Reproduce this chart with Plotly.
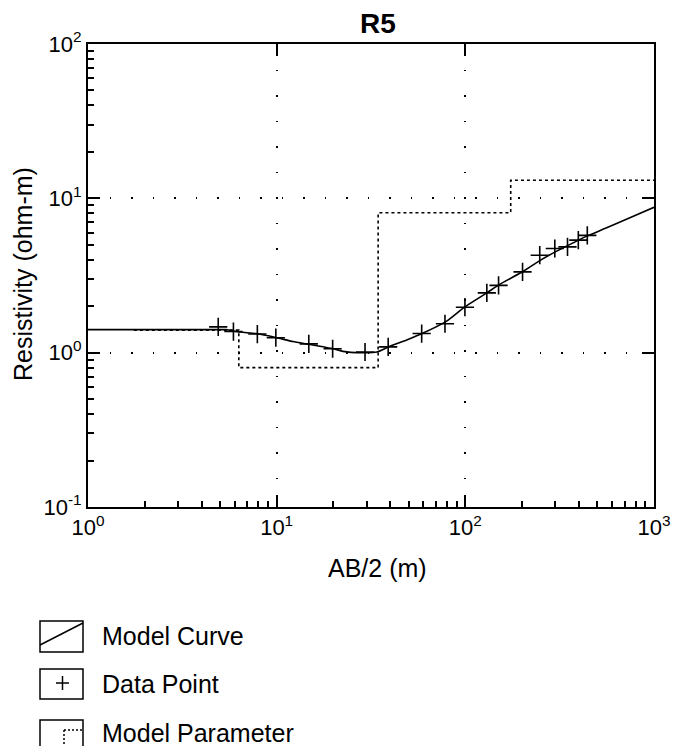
import plotly.graph_objects as go

# ---------------- data ----------------
curve_x = [1, 2, 3, 4, 5, 5.4, 6.4, 7.8, 10, 12.2, 15, 20, 22.5, 28, 34, 39.8, 48.9,
           59.8, 79.6, 99.5, 130, 152, 203, 248, 305, 373, 440, 561, 745, 1000]
curve_y = [1.41, 1.41, 1.41, 1.41, 1.41, 1.41, 1.36, 1.33, 1.25, 1.18, 1.13, 1.06, 1.02,
           1.00, 1.01, 1.10, 1.21, 1.34, 1.60, 1.98, 2.44, 2.77, 3.37, 3.95, 4.55, 5.15,
           5.69, 6.44, 7.49, 8.75]

data_x = [4.9, 5.9, 7.9, 9.9, 14.8, 19.8, 29.4, 39, 58.7, 78, 99.5, 130, 150, 201,
          248, 298, 348, 397, 443]
data_y = [1.47, 1.37, 1.32, 1.25, 1.14, 1.06, 1.01, 1.09, 1.33, 1.54, 1.97, 2.44,
          2.73, 3.34, 4.28, 4.73, 4.85, 5.36, 5.75]

layer_start = 1.75
layer_bottoms = [6.3, 34.5, 174]
layer_rho = [1.40, 0.80, 8.07, 13.1]
layer_end = 1000

x_tickvals = [1, 10, 100, 1000]
x_ticktext = ["10<sup>0</sup>", "10<sup>1</sup>", "10<sup>2</sup>", "10<sup>3</sup>"]
y_tickvals = [0.1, 1, 10, 100]
y_ticktext = ["10<sup>-1</sup>", "10<sup>0</sup>", "10<sup>1</sup>", "10<sup>2</sup>"]

title_text = "R5"
x_title = "AB/2 (m)"
y_title = "Resistivity (ohm-m)"
legend_labels = ["Model Curve", "Data Point", "Model Parameter"]

# build step line of model parameters
step_x = [layer_start]
step_y = [layer_rho[0]]
for i, b in enumerate(layer_bottoms):
    step_x += [b, b]
    step_y += [layer_rho[i], layer_rho[i + 1]]
step_x.append(layer_end)
step_y.append(layer_rho[-1])

# ---------------- layout geometry ----------------
W, H = 674, 746
L, R, T, B = 88, 654, 44, 507
FONT = "Liberation Sans, Arial, sans-serif"


def px2x(px):
    return (px - L) / (R - L)


def px2y(py):
    return (B - py) / (B - T)


minor_x = [m * 10 ** e for e in range(0, 3) for m in range(2, 10)]
minor_y = [m * 10.0 ** e for e in range(-1, 2) for m in range(2, 10)]

fig = go.Figure()
fig.add_trace(go.Scatter(x=step_x, y=step_y, mode="lines",
                         line=dict(color="black", width=1.6, dash="3px,3px"),
                         showlegend=False, hoverinfo="skip"))
fig.add_trace(go.Scatter(x=curve_x, y=curve_y, mode="lines",
                         line=dict(color="black", width=1.6, shape="spline", smoothing=0.6),
                         showlegend=False))
fig.add_trace(go.Scatter(x=data_x, y=data_y, mode="markers",
                         marker=dict(symbol="cross-thin", size=13,
                                     line=dict(color="black", width=1.6)),
                         showlegend=False))

axis_common = dict(type="log", showline=True, mirror=True, linecolor="black", linewidth=2,
                   ticks="inside", ticklen=12, tickwidth=1.5, tickcolor="black",
                   zeroline=False, automargin=False,
                   tickfont=dict(family=FONT, size=22, color="black"))

fig.update_xaxes(range=[0, 3], tickvals=x_tickvals, ticktext=x_ticktext,
                 showgrid=True, gridcolor="black", gridwidth=1.5, griddash="1.5px,24px",
                 **axis_common)
fig.update_yaxes(range=[-1, 2], tickvals=y_tickvals, ticktext=y_ticktext,
                 showgrid=True, gridcolor="black", gridwidth=1.5, griddash="1.5px,20px",
                 **axis_common)

sec = dict(showline=False, ticks="inside", tickwidth=1.5, tickcolor="black",
           showticklabels=False, showgrid=False, zeroline=False, automargin=False)
fig.update_layout(
    xaxis2=dict(type="log", range=[0, 3], overlaying="x", side="top", ticklen=12,
                tickvals=x_tickvals, **sec),
    yaxis2=dict(type="log", range=[-1, 2], overlaying="y", side="right", ticklen=12,
                tickvals=y_tickvals, **sec),
    xaxis3=dict(type="log", range=[0, 3], overlaying="x", side="bottom", ticklen=6,
                tickvals=minor_x, **sec),
    yaxis3=dict(type="log", range=[-1, 2], overlaying="y", side="left", ticklen=6,
                tickvals=minor_y, **sec),
)
# invisible traces to activate the secondary (tick-only) axes
fig.add_trace(go.Scatter(x=[10], y=[1], xaxis="x2", yaxis="y2", mode="markers",
                         marker=dict(opacity=0), showlegend=False, hoverinfo="skip"))
fig.add_trace(go.Scatter(x=[10], y=[1], xaxis="x3", yaxis="y3", mode="markers",
                         marker=dict(opacity=0), showlegend=False, hoverinfo="skip"))

annotations = [
    dict(text="<b>" + title_text + "</b>", x=px2x(378), y=px2y(23), xref="paper", yref="paper",
         showarrow=False, xanchor="center", yanchor="middle",
         font=dict(family=FONT, size=28, color="black")),
    dict(text=x_title, x=px2x(377), y=px2y(568), xref="paper", yref="paper",
         showarrow=False, xanchor="center", yanchor="middle",
         font=dict(family=FONT, size=25, color="black")),
    dict(text=y_title, x=px2x(23), y=px2y(274), xref="paper", yref="paper",
         showarrow=False, xanchor="center", yanchor="middle", textangle=-90,
         font=dict(family=FONT, size=25, color="black")),
]
legend_y = [636, 684, 733]
for lab, ly in zip(legend_labels, legend_y):
    annotations.append(dict(text=lab, x=px2x(100), y=px2y(ly), xref="paper", yref="paper",
                            showarrow=False, xanchor="left", yanchor="middle",
                            font=dict(family=FONT, size=25, color="black")))

shapes = []


def box(y0, y1):
    return dict(type="rect", xref="paper", yref="paper", x0=px2x(40), x1=px2x(83),
                y0=px2y(y0), y1=px2y(y1), line=dict(color="black", width=1.5))


def seg(x0, y0, x1, y1, dash="solid", w=1.5):
    return dict(type="line", xref="paper", yref="paper", x0=px2x(x0), y0=px2y(y0),
                x1=px2x(x1), y1=px2y(y1), line=dict(color="black", width=w, dash=dash))


shapes += [box(621, 652), seg(40, 645, 83, 623),
           box(669, 699), seg(56, 683, 69, 683), seg(62.5, 676, 62.5, 690),
           box(720, 770), seg(64, 730, 83, 730, "2px,2px"), seg(64, 730, 64, 746, "2px,2px")]

fig.update_layout(
    width=W, height=H,
    margin=dict(l=L, r=W - R, t=T, b=H - B, pad=0, autoexpand=False),
    paper_bgcolor="white", plot_bgcolor="white",
    showlegend=False,
    annotations=annotations, shapes=shapes,
    font=dict(family=FONT, color="black"),
)

fig.write_html("out.html")
